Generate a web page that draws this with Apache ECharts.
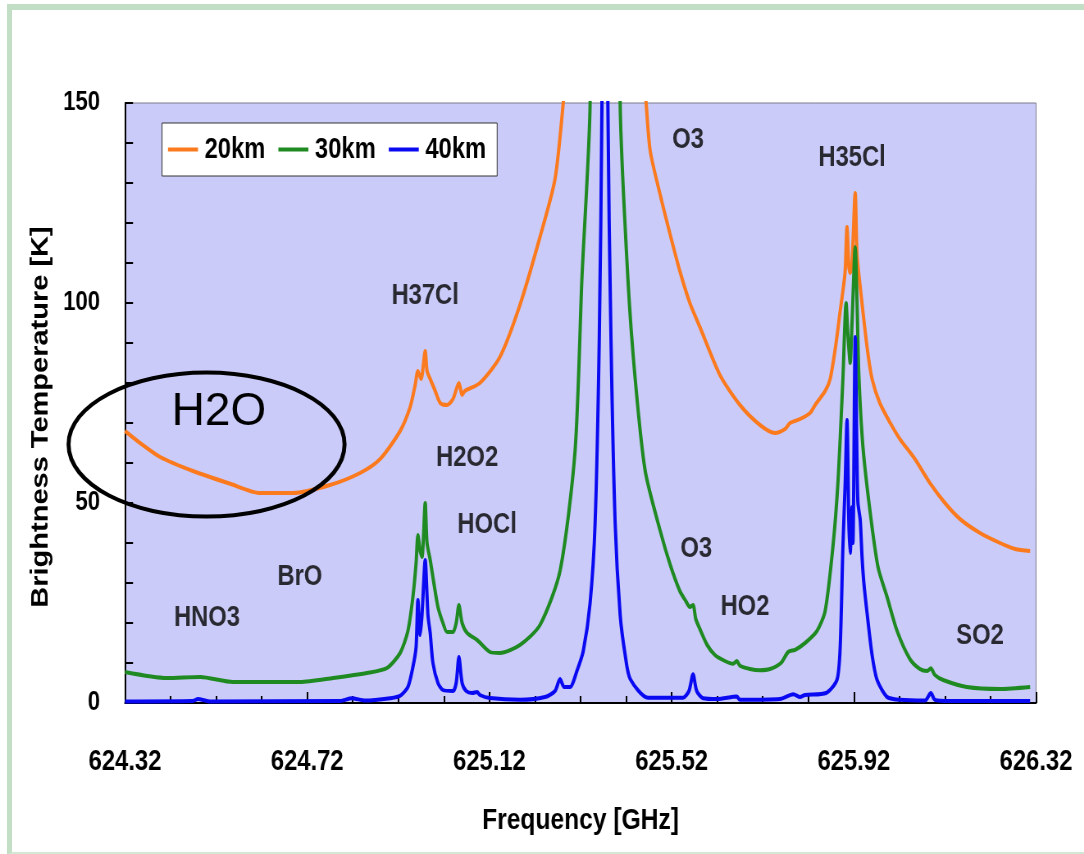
<!DOCTYPE html>
<html>
<head>
<meta charset="utf-8">
<script src="https://cdn.jsdelivr.net/npm/echarts@6/dist/echarts.min.js"></script>
<style>
  html, body { margin: 0; padding: 0; background: #fff; overflow: hidden; }
  #frame {
    position: absolute; left: 7px; top: 4px; width: 1100px; height: 842px;
    border-left: 5px solid #c2dec4; border-top: 6px solid #c2dec4; border-bottom: 3px solid #d2e8d4;
  }
  /* The chart is laid out wide and condensed horizontally, giving the narrow lettering */
  #chart {
    position: absolute; left: 0; top: 0; width: 1322px; height: 854px;
    transform: scaleX(0.82); transform-origin: 0 0;
  }
</style>
</head>
<body>
<div id="frame"></div>
<div id="chart"></div>
<script>
const SX = 0.82;            // horizontal condensing factor of #chart
const px = v => v / SX;     // page-pixel width -> chart units

// Frequency axis starts here; points are plotted as offsets from it
const F0 = 624.32;
const xTicks = [624.32, 624.72, 625.12, 625.52, 625.92, 626.32];
const yTicks = [0, 50, 100, 150];

// 20 km tangent height
const freq20 = [624.320, 624.353, 624.397, 624.469, 624.551, 624.616, 624.689, 624.770, 624.836, 624.880,
  624.924, 624.946, 624.957, 624.963, 624.970, 624.979, 624.983, 624.990, 625.001, 625.012,
  625.027, 625.040, 625.053, 625.060, 625.066, 625.099, 625.143, 625.187, 625.231, 625.264,
  625.282, 625.308, 625.341, 625.374, 625.407, 625.440, 625.464, 625.473, 625.495, 625.517,
  625.538, 625.560, 625.582, 625.626, 625.670, 625.714, 625.747, 625.769, 625.780, 625.802,
  625.824, 625.835, 625.857, 625.868, 625.881, 625.890, 625.896, 625.901, 625.905, 625.909,
  625.912, 625.916, 625.923, 625.927, 625.934, 625.949, 625.960, 625.977, 626.000, 626.021,
  626.054, 626.087, 626.120, 626.153, 626.197, 626.241, 626.274, 626.307];
const temp20 = [68, 65, 61.5, 58, 54.8, 52.5, 52.5, 54.5, 57.5, 61,
  68, 74, 79.5, 83, 81, 88, 83, 81, 78, 75,
  74.5, 76, 80, 77, 78, 80, 86.5, 99.5, 116.5, 131,
  150, 185, 260, 320, 260, 185, 150, 138, 127, 117,
  108, 100, 94, 82, 74.5, 69.5, 67.5, 68.5, 70, 71,
  72.5, 74.5, 78, 81, 90, 98, 103, 108, 119, 109,
  107.5, 110, 127.5, 112, 104, 89, 81, 75, 70, 66,
  61, 55, 50, 46, 42.5, 40, 38.5, 38];

// 30 km tangent height
const freq30 = [624.320, 624.412, 624.485, 624.557, 624.704, 624.777, 624.851, 624.895, 624.924, 624.941,
  624.952, 624.959, 624.963, 624.968, 624.972, 624.979, 624.983, 624.990, 624.998, 625.007,
  625.018, 625.027, 625.040, 625.047, 625.053, 625.060, 625.071, 625.093, 625.121, 625.143,
  625.187, 625.231, 625.275, 625.308, 625.323, 625.341, 625.374, 625.407, 625.424, 625.440,
  625.462, 625.495, 625.517, 625.538, 625.551, 625.560, 625.567, 625.573, 625.582, 625.598,
  625.615, 625.637, 625.655, 625.663, 625.670, 625.692, 625.714, 625.736, 625.760, 625.776,
  625.791, 625.813, 625.839, 625.857, 625.874, 625.885, 625.896, 625.903, 625.907, 625.912,
  625.916, 625.923, 625.927, 625.931, 625.940, 625.956, 625.973, 625.993, 626.015, 626.043,
  626.065, 626.081, 626.089, 626.098, 626.116, 626.168, 626.241, 626.307];
const temp30 = [7.75, 6.25, 6.5, 5.25, 5.25, 6.25, 7.5, 8.75, 12.5, 18,
  26.5, 35, 42, 38, 36.5, 50, 40, 35.75, 30, 24,
  20, 17.75, 17.75, 20, 24.5, 20, 17.5, 15.75, 12.75, 12.5,
  14.5, 19.5, 33, 63, 106, 150, 600, 150, 106, 81,
  58, 43, 34.5, 28, 25.5, 24, 24.5, 21, 18.5, 14.5,
  12, 10.5, 9.8, 10.5, 9.3, 8.5, 8.2, 8.5, 10, 12.8,
  13.3, 15, 18, 23, 39, 55, 81, 100, 92, 85,
  95, 114, 100, 82, 64, 47.5, 34, 26.5, 18, 11,
  8.5, 8, 8.7, 7, 5.75, 4, 3.5, 4];

// 40 km tangent height
const freq40 = [624.320, 624.469, 624.480, 624.507, 624.792, 624.818, 624.847, 624.902, 624.924, 624.941,
  624.952, 624.959, 624.963, 624.968, 624.972, 624.979, 624.985, 624.990, 624.996, 625.007,
  625.018, 625.040, 625.047, 625.053, 625.060, 625.069, 625.082, 625.093, 625.099, 625.121,
  625.187, 625.242, 625.264, 625.275, 625.284, 625.297, 625.312, 625.326, 625.341, 625.352,
  625.361, 625.367, 625.374, 625.380, 625.387, 625.396, 625.407, 625.418, 625.429, 625.468,
  625.545, 625.558, 625.567, 625.575, 625.589, 625.620, 625.663, 625.670, 625.758, 625.787,
  625.802, 625.813, 625.859, 625.883, 625.890, 625.896, 625.901, 625.905, 625.909, 625.912,
  625.916, 625.918, 625.923, 625.927, 625.929, 625.934, 625.938, 625.942, 625.949, 625.960,
  625.971, 625.993, 626.021, 626.076, 626.089, 626.098, 626.131, 626.307];
const temp40 = [0.4, 0.5, 1, 0.4, 0.5, 1.2, 0.6, 1.2, 1.8, 4,
  9, 14, 25.75, 17, 22, 35.75, 22, 17.5, 10, 5,
  3.25, 3, 5, 11.5, 5, 3, 2.5, 2.75, 2, 1.25,
  0.8, 1.5, 3, 6, 4, 4, 8, 13, 25, 45,
  90, 150, 400, 150, 90, 45, 22, 12, 6, 1.3,
  1.3, 3, 7.2, 3, 1.2, 1, 1.6, 0.8, 1, 2.2,
  1.5, 2, 2.5, 5.8, 14, 39, 55, 70.75, 45, 37.5,
  49, 40, 91.5, 60, 50, 45.75, 36.5, 30, 22.5, 12,
  5.75, 1.5, 0.8, 0.6, 2.5, 0.8, 0.5, 0.5];

// Molecule labels placed at (frequency, temperature)
const speciesNames = ['O3', 'H35Cl', 'H37Cl', 'H2O2', 'HOCl', 'BrO', 'HNO3', 'O3', 'HO2', 'SO2'];
const speciesFreq = [625.556, 625.916, 624.979, 625.071, 625.115, 624.704, 624.500, 625.574, 625.681, 626.197];
const speciesTemp = [140.75, 136.25, 101.75, 61.25, 44.5, 31.5, 21.25, 38.5, 24, 16.75];

const waterLabel = { name: 'H2O', freq: 624.526, temp: 72.75 };
const waterRing = { freq: 624.499, temp: 64.6 };

const FONT = "'Liberation Sans', Arial, Helvetica, sans-serif";
const pairs = (fs, ts) => fs.map((f, i) => [+(f - F0).toFixed(4), ts[i]]);

const lineSeries = (name, color, fs, ts) => ({
  name, type: 'line', data: pairs(fs, ts), symbol: 'none', showSymbol: false,
  smooth: 0.25, clip: true, sampling: null,
  lineStyle: { color, width: 4, join: 'round' }, itemStyle: { color },
  emphasis: { disabled: true }
});

const chart = echarts.init(document.getElementById('chart'), null, { renderer: 'canvas' });

chart.setOption({
  animation: false,
  backgroundColor: 'transparent',
  grid: {
    left: px(125), right: px(48), top: 103, bottom: 151,
    show: true, backgroundColor: '#cbcbf9', borderColor: '#7a7a8a', borderWidth: 1
  },
  legend: {
    data: ['20km', '30km', '40km'],
    left: px(162), top: 123,
    icon: 'rect', itemWidth: px(30), itemHeight: 4, itemGap: px(13),
    padding: [12, px(11), 12, px(6)],
    backgroundColor: '#ffffff', borderColor: '#333', borderWidth: 1,
    textStyle: { fontFamily: FONT, fontWeight: 'bold', fontSize: 29, color: '#000', padding: [0, 0, 0, 3] }
  },
  xAxis: {
    type: 'value', min: 0, max: 2, interval: 0.4,
    name: 'Frequency [GHz]', nameLocation: 'middle', nameGap: 103,
    nameTextStyle: { fontFamily: FONT, fontWeight: 'bold', fontSize: 30, color: '#000' },
    axisLine: { show: true, lineStyle: { color: '#000', width: 2 } },
    axisTick: { show: true, inside: true, length: 11, lineStyle: { color: '#000', width: 2 } },
    minorTick: { show: true, splitNumber: 4, length: 7, lineStyle: { color: '#000', width: 2 } },
    axisLabel: {
      margin: 44, fontFamily: FONT, fontWeight: 'bold', fontSize: 29, color: '#000',
      formatter: v => {
        const t = xTicks.find(x => Math.abs(x - F0 - v) < 1e-6);
        return t !== undefined ? t.toFixed(2) : '';
      }
    },
    splitLine: { show: false }
  },
  yAxis: {
    type: 'value', min: 0, max: 150, interval: 50,
    name: 'Brightness Temperature [K]', nameLocation: 'middle', nameGap: px(72),
    nameTextStyle: { fontFamily: FONT, fontWeight: 'bold', fontSize: 29, color: '#000', padding: [0, 28, 0, 0] },
    axisLine: { show: true, lineStyle: { color: '#000', width: 2 } },
    axisTick: { show: true, inside: true, length: px(8), lineStyle: { color: '#000', width: 2 } },
    minorTick: { show: true, splitNumber: 5, length: px(8), lineStyle: { color: '#000', width: 2 } },
    axisLabel: {
      margin: px(25), fontFamily: FONT, fontWeight: 'bold', fontSize: 27, color: '#000',
      formatter: v => yTicks.includes(v) ? String(v) : ''
    },
    splitLine: { show: false }
  },
  series: [
    lineSeries('20km', '#fb7a1e', freq20, temp20),
    lineSeries('30km', '#1f8a22', freq30, temp30),
    lineSeries('40km', '#0a0af2', freq40, temp40),
    {
      name: 'species', type: 'scatter', symbolSize: 0, silent: true,
      data: speciesNames.map((n, i) => ({ value: [speciesFreq[i] - F0, speciesTemp[i]], name: n })),
      label: {
        show: true, position: 'inside', formatter: p => p.name,
        fontFamily: FONT, fontWeight: 'bold', fontSize: 29, color: '#000'
      }
    }
  ]
});

// Water-vapour note: upright lettering and a ring, undoing the horizontal condensing
const ring = chart.convertToPixel({ gridIndex: 0 }, [waterRing.freq - F0, waterRing.temp]);
const note = chart.convertToPixel({ gridIndex: 0 }, [waterLabel.freq - F0, waterLabel.temp]);
chart.setOption({
  graphic: [
    {
      type: 'ellipse', z: 100, silent: true,
      x: ring[0], y: ring[1], scaleX: 1 / SX,
      shape: { cx: 0, cy: 0, rx: 138, ry: 72 },
      style: { fill: 'none', stroke: '#000', lineWidth: 4 }
    },
    {
      type: 'text', z: 100, silent: true,
      x: note[0], y: note[1], scaleX: 1 / SX,
      style: {
        text: waterLabel.name, fill: '#000', font: "46px " + FONT,
        textAlign: 'center', textVerticalAlign: 'middle'
      }
    }
  ]
});
</script>
</body>
</html>
